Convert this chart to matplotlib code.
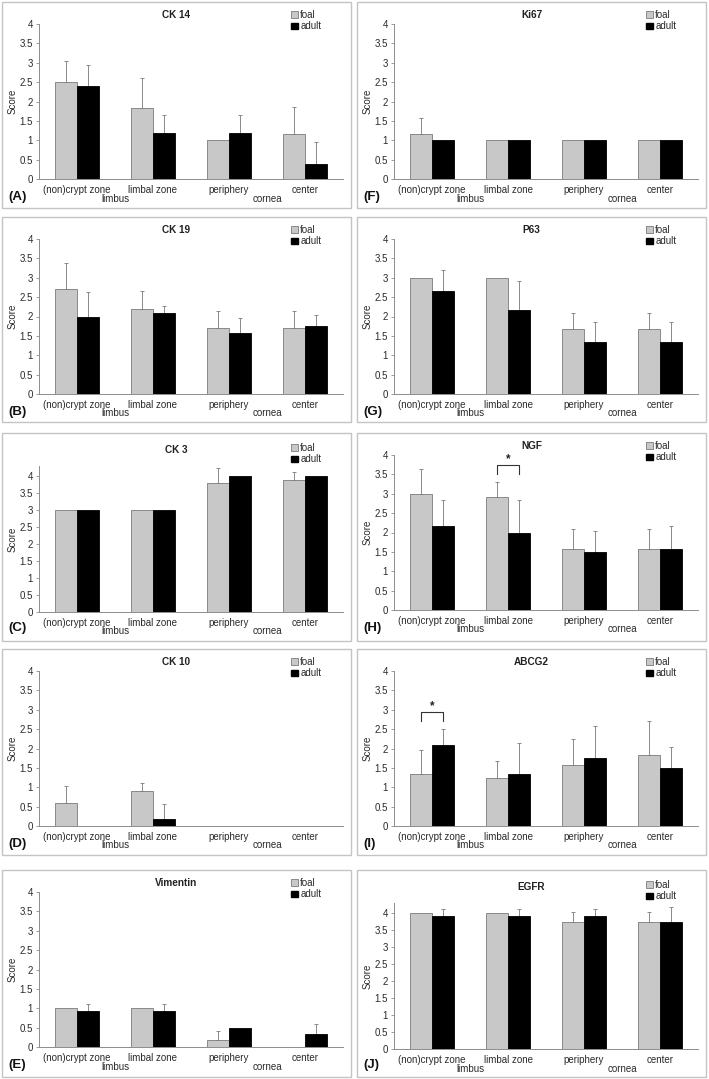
import numpy as np
import matplotlib
matplotlib.use("Agg")
import matplotlib.pyplot as plt
from matplotlib.patches import Rectangle, Patch

plt.rcParams['font.family'] = ['Liberation Sans', 'DejaVu Sans']

# ---------------------------------------------------------------
# DATA
# ---------------------------------------------------------------
CATEGORIES = ["(non)crypt zone", "limbal zone", "periphery", "center"]
GROUPS = ["limbus", "cornea"]

ck14_foal = [2.5, 1.83, 1.0, 1.17]
ck14_foal_sd = [0.55, 0.77, 0.0, 0.68]
ck14_adult = [2.4, 1.2, 1.2, 0.4]
ck14_adult_sd = [0.55, 0.45, 0.45, 0.56]

ck19_foal = [2.7, 2.2, 1.7, 1.7]
ck19_foal_sd = [0.67, 0.45, 0.45, 0.45]
ck19_adult = [2.0, 2.08, 1.58, 1.75]
ck19_adult_sd = [0.64, 0.2, 0.39, 0.28]

ck3_foal = [3.0, 3.0, 3.8, 3.9]
ck3_foal_sd = [0.0, 0.0, 0.45, 0.22]
ck3_adult = [3.0, 3.0, 4.0, 4.0]
ck3_adult_sd = [0.0, 0.0, 0.0, 0.0]

ck10_foal = [0.6, 0.9, 0.0, 0.0]
ck10_foal_sd = [0.42, 0.22, 0.0, 0.0]
ck10_adult = [0.0, 0.17, 0.0, 0.0]
ck10_adult_sd = [0.0, 0.41, 0.0, 0.0]

vim_foal = [1.0, 1.0, 0.17, 0.0]
vim_foal_sd = [0.0, 0.0, 0.25, 0.0]
vim_adult = [0.92, 0.92, 0.5, 0.33]
vim_adult_sd = [0.2, 0.2, 0.0, 0.27]

ki67_foal = [1.17, 1.0, 1.0, 1.0]
ki67_foal_sd = [0.41, 0.0, 0.0, 0.0]
ki67_adult = [1.0, 1.0, 1.0, 1.0]
ki67_adult_sd = [0.0, 0.0, 0.0, 0.0]

p63_foal = [3.0, 3.0, 1.67, 1.67]
p63_foal_sd = [0.0, 0.0, 0.41, 0.41]
p63_adult = [2.67, 2.17, 1.33, 1.33]
p63_adult_sd = [0.52, 0.75, 0.52, 0.52]

ngf_foal = [3.0, 2.92, 1.58, 1.58]
ngf_foal_sd = [0.63, 0.38, 0.5, 0.5]
ngf_adult = [2.17, 2.0, 1.5, 1.58]
ngf_adult_sd = [0.68, 0.83, 0.55, 0.58]

abcg2_foal = [1.33, 1.25, 1.58, 1.83]
abcg2_foal_sd = [0.62, 0.42, 0.67, 0.89]
abcg2_adult = [2.08, 1.33, 1.75, 1.5]
abcg2_adult_sd = [0.42, 0.81, 0.82, 0.55]

egfr_foal = [4.0, 4.0, 3.75, 3.75]
egfr_foal_sd = [0.0, 0.0, 0.28, 0.28]
egfr_adult = [3.92, 3.92, 3.92, 3.75]
egfr_adult_sd = [0.2, 0.2, 0.2, 0.42]

# significant differences: (category index, bracket level)
ngf_sig = (1, 3.73)
abcg2_sig = (0, 2.93)

# ---------------------------------------------------------------
# LAYOUT (pixels)
# ---------------------------------------------------------------
W, H = 709, 1079
COL_X = [(2, 351), (357, 706)]
ROW_Y = [(2, 208), (217, 422), (433, 641), (649, 855), (870, 1077)]

FOAL_COLOR = "#c8c8c8"
FOAL_EDGE = "#7a7a7a"
ADULT_COLOR = "#000000"
ERR_COLOR = "#8a8a8a"
AXIS_COLOR = "#8c8c8c"
TEXT_COLOR = "#2a2a2a"
BAR_W = 0.29
FS = 7

fig = plt.figure(figsize=(W / 100, H / 100), dpi=100)


def fx(px):
    return px / W


def fy(py):
    return 1 - py / H


def draw_panel(col, row, letter, title, foal, foal_sd, adult, adult_sd,
               ymax=4.0, sig=None):
    bx0, bx1 = COL_X[col]
    by0, by1 = ROW_Y[row]

    # panel frame
    fig.add_artist(Rectangle((fx(bx0), fy(by1)), fx(bx1 - bx0), (by1 - by0) / H,
                             transform=fig.transFigure, fill=False,
                             edgecolor="#c4c4c4", linewidth=1.0))

    if ymax > 4:
        top, bottom, title_y, leg_y = by0 + 33, by0 + 179, by0 + 17, by0 + 10
    else:
        top, bottom, title_y, leg_y = by0 + 22, by0 + 177, by0 + 13, by0 + 8
    left, right = bx0 + 37, bx0 + 341
    ax = fig.add_axes([fx(left), fy(bottom), fx(right - left), (bottom - top) / H])

    x = np.arange(len(CATEGORIES))
    foal = np.array(foal)
    adult = np.array(adult)
    foal_sd = np.array(foal_sd)
    adult_sd = np.array(adult_sd)

    ax.bar(x - BAR_W / 2, foal, BAR_W, color=FOAL_COLOR, edgecolor=FOAL_EDGE,
           linewidth=0.6, label="foal", zorder=2)
    ax.bar(x + BAR_W / 2, adult, BAR_W, color=ADULT_COLOR, edgecolor=ADULT_COLOR,
           linewidth=0.6, label="adult", zorder=2)

    # upper error bars only
    for xs, m, sd in [(x - BAR_W / 2, foal, foal_sd), (x + BAR_W / 2, adult, adult_sd)]:
        mask = sd > 0
        if mask.any():
            ax.errorbar(xs[mask], m[mask], yerr=[np.zeros(mask.sum()), sd[mask]],
                        fmt="none", ecolor=ERR_COLOR, elinewidth=0.7,
                        capsize=1.5, capthick=0.7, zorder=1)

    if sig is not None:
        i, level = sig
        xl, xr = i - BAR_W / 2, i + BAR_W / 2
        ax.plot([xl, xl, xr, xr], [level - 0.23, level, level, level - 0.23],
                color="#333333", linewidth=0.8, zorder=3)
        ax.text(i, level + 0.02, "*", ha="center", va="bottom", fontsize=8.5,
                fontweight="bold", color="#222222")

    ax.set_xlim(-0.5, len(CATEGORIES) - 0.5)
    ax.set_ylim(0, ymax)
    ax.set_yticks(np.arange(0, 4.01, 0.5))
    ax.set_yticklabels([f"{v:g}" for v in np.arange(0, 4.01, 0.5)])
    ax.set_xticks(x)
    ax.set_xticklabels(CATEGORIES)
    ax.tick_params(axis="x", length=0, pad=4.5, labelsize=FS, labelcolor=TEXT_COLOR)
    ax.tick_params(axis="y", length=2.5, width=0.6, color=AXIS_COLOR, pad=2,
                   labelsize=FS, labelcolor=TEXT_COLOR)
    for s in ["top", "right"]:
        ax.spines[s].set_visible(False)
    for s in ["left", "bottom"]:
        ax.spines[s].set_color(AXIS_COLOR)
        ax.spines[s].set_linewidth(0.7)

    # second-level category labels
    for g, gx in zip(GROUPS, [0.5, 2.5]):
        ax.annotate(g, xy=(gx, 0), xycoords=("data", "axes fraction"),
                    xytext=(0, -19.5), textcoords="offset pixels",
                    ha="center", va="center", fontsize=FS, color=TEXT_COLOR)

    fig.text(fx(bx0 + 11), fy((top + bottom) / 2), "Score", rotation=90,
             ha="center", va="center", fontsize=FS, color=TEXT_COLOR)
    fig.text(fx((bx0 + bx1) / 2), fy(title_y), title, ha="center", va="center",
             fontsize=7.2, fontweight="bold", color="#222222")
    fig.text(fx(bx0 + 6), fy(by0 + 195), f"({letter})", ha="left", va="center",
             fontsize=9.5, fontweight="bold", color="#111111")

    handles = [Patch(facecolor=FOAL_COLOR, edgecolor=FOAL_EDGE, linewidth=0.6, label="foal"),
               Patch(facecolor=ADULT_COLOR, edgecolor=ADULT_COLOR, label="adult")]
    ax.legend(handles=handles, loc="upper left",
              bbox_to_anchor=(fx(bx0 + 289), fy(leg_y)), bbox_transform=fig.transFigure,
              frameon=False, fontsize=FS, handlelength=0.7, handleheight=0.7,
              handletextpad=0.25, labelspacing=0.15, borderpad=0, borderaxespad=0,
              labelcolor=TEXT_COLOR)
    return ax


draw_panel(0, 0, "A", "CK 14", ck14_foal, ck14_foal_sd, ck14_adult, ck14_adult_sd)
draw_panel(0, 1, "B", "CK 19", ck19_foal, ck19_foal_sd, ck19_adult, ck19_adult_sd)
draw_panel(0, 2, "C", "CK 3", ck3_foal, ck3_foal_sd, ck3_adult, ck3_adult_sd, ymax=4.3)
draw_panel(0, 3, "D", "CK 10", ck10_foal, ck10_foal_sd, ck10_adult, ck10_adult_sd)
draw_panel(0, 4, "E", "Vimentin", vim_foal, vim_foal_sd, vim_adult, vim_adult_sd)
draw_panel(1, 0, "F", "Ki67", ki67_foal, ki67_foal_sd, ki67_adult, ki67_adult_sd)
draw_panel(1, 1, "G", "P63", p63_foal, p63_foal_sd, p63_adult, p63_adult_sd)
draw_panel(1, 2, "H", "NGF", ngf_foal, ngf_foal_sd, ngf_adult, ngf_adult_sd, sig=ngf_sig)
draw_panel(1, 3, "I", "ABCG2", abcg2_foal, abcg2_foal_sd, abcg2_adult, abcg2_adult_sd,
           sig=abcg2_sig)
draw_panel(1, 4, "J", "EGFR", egfr_foal, egfr_foal_sd, egfr_adult, egfr_adult_sd, ymax=4.3)

fig.savefig("out.png", dpi=100)
